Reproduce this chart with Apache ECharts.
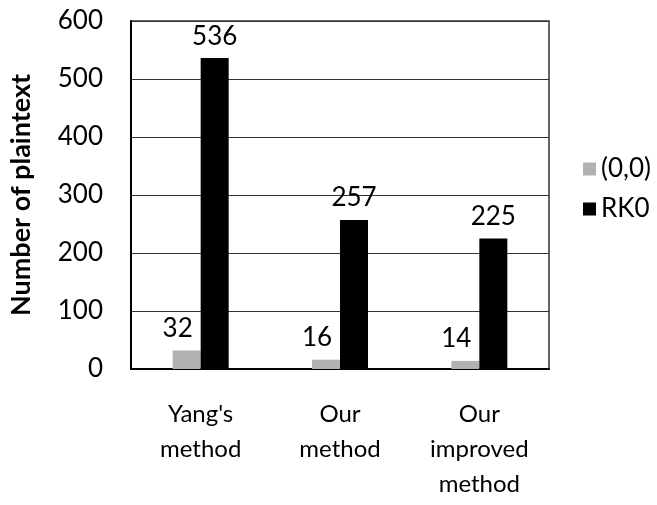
<!DOCTYPE html>
<html>
<head>
<meta charset="utf-8">
<script src="https://cdn.jsdelivr.net/npm/echarts@6/dist/echarts.min.js"></script>
<style>
  html, body { margin: 0; padding: 0; background: #fff; }
  #chart { width: 657px; height: 505px; }
</style>
</head>
<body>
<div id="chart"></div>
<script>
// Methods compared on the horizontal axis
var categories = ["Yang's\nmethod", "Our\nmethod", "Our\nimproved\nmethod"];
// Number of plaintexts for each condition
var seriesNames = ['(0,0)', 'RK0'];
var zeroZeroValues = [32, 16, 14];
var rk0Values = [536, 257, 225];
// Vertical axis range
var yMin = 0;
var yMax = 600;
var yStep = 100;

var FONT = 'Lato';

var chart = echarts.init(document.getElementById('chart'), null, { renderer: 'canvas' });

function barLabel(offsetX) {
  return {
    show: true,
    position: 'top',
    distance: 9,
    offset: [offsetX, 0],
    color: '#000',
    fontFamily: FONT,
    fontSize: 26
  };
}

chart.setOption({
  animation: false,
  backgroundColor: '#fff',
  grid: {
    left: 128,
    right: 108,
    top: 21,
    bottom: 136,
    show: true,
    borderColor: '#333',
    borderWidth: 1.5,
    backgroundColor: 'transparent'
  },
  legend: {
    orient: 'vertical',
    left: 578,
    top: 151,
    itemWidth: 13,
    itemHeight: 13,
    itemGap: 14,
    icon: 'rect',
    textStyle: { fontFamily: FONT, fontSize: 26, color: '#000', lineHeight: 26, padding: [0, 0, 0, 0] },
    data: seriesNames
  },
  xAxis: {
    type: 'category',
    data: categories,
    axisLine: { show: true, lineStyle: { color: '#000', width: 2 } },
    axisTick: { show: false },
    axisLabel: {
      margin: 28,
      color: '#000',
      fontFamily: FONT,
      fontSize: 24,
      lineHeight: 35,
      interval: 0
    }
  },
  yAxis: {
    type: 'value',
    min: yMin,
    max: yMax,
    interval: yStep,
    name: 'Number of plaintext',
    nameLocation: 'middle',
    nameGap: 96,
    nameTextStyle: { fontFamily: FONT, fontSize: 27, fontWeight: 'bold', color: '#000' },
    axisLine: { show: true, lineStyle: { color: '#000', width: 2 } },
    axisTick: { show: false },
    axisLabel: { margin: 28, color: '#000', fontFamily: FONT, fontSize: 26 },
    splitLine: { show: true, lineStyle: { color: '#333', width: 1 } }
  },
  series: [
    {
      name: seriesNames[0],
      type: 'bar',
      data: zeroZeroValues,
      barWidth: 28,
      barGap: '0%',
      itemStyle: { color: '#b2b2b2' },
      label: barLabel(-9)
    },
    {
      name: seriesNames[1],
      type: 'bar',
      data: rk0Values,
      barWidth: 28,
      barGap: '0%',
      itemStyle: { color: '#000' },
      label: barLabel(0)
    }
  ]
});
</script>
</body>
</html>
